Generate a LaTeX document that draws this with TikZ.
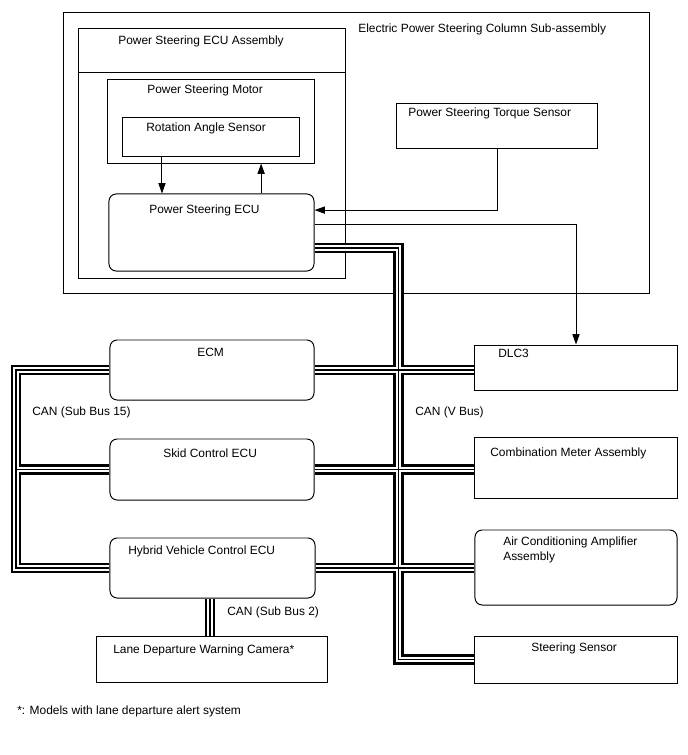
\documentclass[tikz,border=0pt]{standalone}
\usepackage{fontspec}
\setmainfont{Liberation Sans}
\usetikzlibrary{arrows.meta}

\tikzset{
  unitbox/.style={draw,line width=0.7pt,fill=white,inner sep=0pt},
  roundbox/.style={unitbox,rounded corners=0.18cm},
  lbl/.style={inner sep=0pt,anchor=west,align=left,font=\fontsize{8.5}{10.5}\selectfont},
  wire/.style={line width=0.7pt},
  sig/.style={wire,-{Triangle[length=2.6mm,width=1.8mm]}},
  busout/.style={line width=0.26cm},
  busgap/.style={line width=0.145cm,white},
  busmid/.style={line width=0.035cm},
}

% the CAN wiring, drawn once per layer
\newcommand\canbus[1]{%
  \draw[#1] (psecu.east |- vtop) -- (vtop) |- (steer.west);
  \draw[#1] (ecm.east) -- (dlc.west |- ecm.east);
  \draw[#1] (skid.east) -- (meter.west |- skid.east);
  \draw[#1] (hv.east) -- (ac.west |- hv.east);
  \draw[#1] (ecm.west) -| (lbus) |- (hv.west);
  \draw[#1] (skid.west) -- (lbus);
  \draw[#1] ([xshift=-0.06cm]hv.south) -- ([xshift=-0.06cm]hv.south |- cam.north);
}

\begin{document}
\begin{tikzpicture}[x=0.025cm,y=-0.025cm,line join=miter]
  \useasboundingbox (0,0) rectangle (688,755);

  % column sub-assembly and ECU assembly frames
  \draw[wire] (63,12) rectangle (649,293);
  \draw[wire] (78,28) rectangle (345,278);
  \draw[wire] (78,72) -- (345,72);
  \node[lbl] (col-l) at (358,29) {Electric Power Steering Column Sub-assembly};
  \node[lbl] (asm-l) at (118,41) {Power Steering ECU Assembly};

  % boxes
  \node[unitbox,minimum width=5.15cm,minimum height=2.075cm] (motor) at (211,121.5) {};
  \node[unitbox,minimum width=4.4cm,minimum height=0.975cm] (ras) at (211,136.5) {};
  \node[roundbox,minimum width=5.125cm,minimum height=1.925cm] (psecu) at (211.5,232.5) {};
  \node[unitbox,minimum width=5cm,minimum height=1.125cm] (torque) at (497,125.5) {};
  \node[roundbox,minimum width=5.1cm,minimum height=1.5cm] (ecm) at (212,370) {};
  \node[roundbox,minimum width=5.1cm,minimum height=1.525cm] (skid) at (212,469.5) {};
  \node[roundbox,minimum width=5.125cm,minimum height=1.5cm] (hv) at (212.5,568) {};
  \node[unitbox,minimum width=5.75cm,minimum height=1.15cm] (cam) at (212,659) {};
  \node[unitbox,minimum width=5.05cm,minimum height=1.125cm] (dlc) at (576,367.5) {};
  \node[unitbox,minimum width=5.05cm,minimum height=1.525cm] (meter) at (576,467.5) {};
  \node[roundbox,minimum width=5.05cm,minimum height=1.875cm] (ac) at (576,567.5) {};
  \node[unitbox,minimum width=5.05cm,minimum height=1.175cm] (steer) at (576,659.5) {};

  \node[lbl] (motor-l) at (147,90) {Power Steering Motor};
  \node[lbl] (ras-l) at (146,128) {Rotation Angle Sensor};
  \node[lbl] (psecu-l) at (149,210) {Power Steering ECU};
  \node[lbl] (torque-l) at (408,113) {Power Steering Torque Sensor};
  \node[lbl] (ecm-l) at (197,352) {ECM};
  \node[lbl] (skid-l) at (163,453) {Skid Control ECU};
  \node[lbl] (hv-l) at (128,551) {Hybrid Vehicle Control ECU};
  \node[lbl] (cam-l) at (113,650) {Lane Departure Warning Camera*};
  \node[lbl] (dlc-l) at (498,353) {DLC3};
  \node[lbl] (meter-l) at (490,453) {Combination Meter Assembly};
  \node[lbl] (ac-l) at (503,550) {Air Conditioning Amplifier\\Assembly};
  \node[lbl] (steer-l) at (531,648) {Steering Sensor};

  % signal lines
  \draw[sig] ([xshift=-1.225cm]ras.south) -- ([xshift=-1.225cm]ras.south |- psecu.north);
  \draw[sig] ([xshift=1.24cm]psecu.north) -- ([xshift=1.24cm]psecu.north |- motor.south);
  \draw[sig] (torque.south) |- ([yshift=0.56cm]psecu.east);
  \draw[sig] ([yshift=0.19cm]psecu.east) -| (dlc.north);

  % CAN buses
  \coordinate (vtop) at (398.5,248);
  \coordinate (lbus) at (16,469.5);
  \canbus{busout}
  \canbus{busgap}
  \canbus{busmid}

  \node[lbl] (sb15-l) at (32,412) {CAN (Sub Bus 15)};
  \node[lbl] (vbus-l) at (415,412) {CAN (V Bus)};
  \node[lbl] (sb2-l) at (227,612) {CAN (Sub Bus 2)};
  \node[lbl] (note-l) at (17,711) {*: Models with lane departure alert system};
\end{tikzpicture}
\end{document}
